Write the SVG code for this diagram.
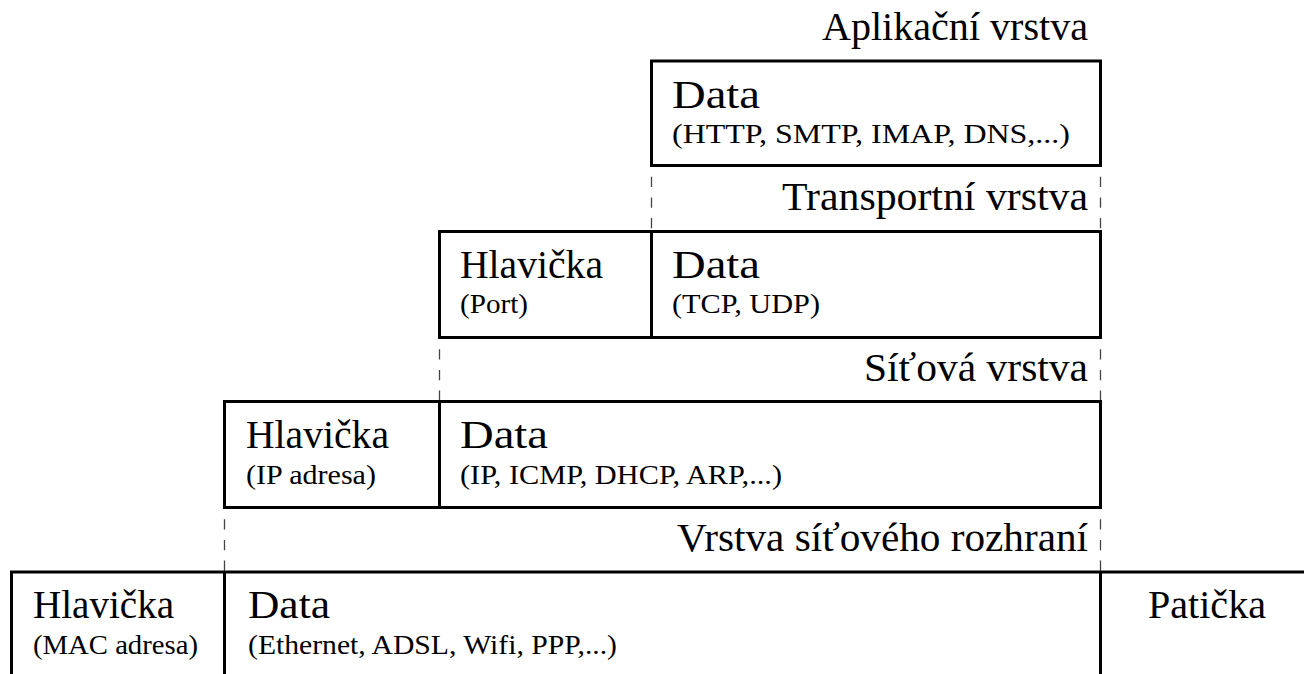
<svg xmlns="http://www.w3.org/2000/svg" width="1304" height="674" viewBox="0 0 1304 674">
<style>
.big{font-size:40px}
.small{font-size:27px}
.lbl{font-size:40px;text-anchor:end}
.box{fill:none;stroke:#000;stroke-width:3}
.div{stroke:#000;stroke-width:3}
.dash{stroke:#444;stroke-width:1.3;stroke-dasharray:10.3 10.3;stroke-dashoffset:10.3;fill:none}
</style>
<rect width="1304" height="674" fill="#fff"/>
<g id="connectors">
<line class="dash" x1="651.5" y1="166.5" x2="651.5" y2="232"/>
<line class="dash" x1="1100.5" y1="166.5" x2="1100.5" y2="232"/>
<line class="dash" x1="439.5" y1="339" x2="439.5" y2="402"/>
<line class="dash" x1="1100.5" y1="339" x2="1100.5" y2="402"/>
<line class="dash" x1="224.5" y1="509" x2="224.5" y2="572"/>
<line class="dash" x1="1100.5" y1="509" x2="1100.5" y2="572"/>
</g>
<g font-family="Liberation Serif, Times New Roman, DejaVu Serif, serif" fill="#000">
<g id="layer-app">
<text class="lbl" x="1088" y="40" textLength="266" lengthAdjust="spacingAndGlyphs">Aplikační vrstva</text>
<rect class="box" x="651.5" y="61" width="449" height="104.5"/>
<text class="big" x="672" y="108" textLength="88" lengthAdjust="spacingAndGlyphs">Data</text>
<text class="small" x="672" y="143" textLength="398" lengthAdjust="spacingAndGlyphs">(HTTP, SMTP, IMAP, DNS,...)</text>
</g>
<g id="layer-transport">
<text class="lbl" x="1088" y="210" textLength="306" lengthAdjust="spacingAndGlyphs">Transportní vrstva</text>
<rect class="box" x="439.5" y="231.5" width="661" height="106"/>
<line class="div" x1="651.5" y1="231.5" x2="651.5" y2="337.5"/>
<text class="big" x="460" y="278" textLength="143" lengthAdjust="spacingAndGlyphs">Hlavička</text>
<text class="small" x="460" y="313" textLength="68" lengthAdjust="spacingAndGlyphs">(Port)</text>
<text class="big" x="672" y="278" textLength="88" lengthAdjust="spacingAndGlyphs">Data</text>
<text class="small" x="672" y="313" textLength="148" lengthAdjust="spacingAndGlyphs">(TCP, UDP)</text>
</g>
<g id="layer-network">
<text class="lbl" x="1088" y="381" textLength="224" lengthAdjust="spacingAndGlyphs">Síťová vrstva</text>
<rect class="box" x="224.5" y="401.5" width="876" height="106"/>
<line class="div" x1="439.5" y1="401.5" x2="439.5" y2="507.5"/>
<text class="big" x="246" y="448" textLength="143" lengthAdjust="spacingAndGlyphs">Hlavička</text>
<text class="small" x="246" y="484" textLength="130" lengthAdjust="spacingAndGlyphs">(IP adresa)</text>
<text class="big" x="460" y="448" textLength="88" lengthAdjust="spacingAndGlyphs">Data</text>
<text class="small" x="460" y="484" textLength="322" lengthAdjust="spacingAndGlyphs">(IP, ICMP, DHCP, ARP,...)</text>
</g>
<g id="layer-link">
<text class="lbl" x="1088" y="551" textLength="411" lengthAdjust="spacingAndGlyphs">Vrstva síťového rozhraní</text>
<path class="box" d="M11.5 674 V572 H1304"/>
<line class="div" x1="224.5" y1="572" x2="224.5" y2="674"/>
<line class="div" x1="1100.5" y1="572" x2="1100.5" y2="674"/>
<text class="big" x="33" y="618" textLength="141" lengthAdjust="spacingAndGlyphs">Hlavička</text>
<text class="small" x="33" y="654" textLength="165" lengthAdjust="spacingAndGlyphs">(MAC adresa)</text>
<text class="big" x="248" y="618" textLength="82" lengthAdjust="spacingAndGlyphs">Data</text>
<text class="small" x="248" y="654" textLength="369" lengthAdjust="spacingAndGlyphs">(Ethernet, ADSL, Wifi, PPP,...)</text>
<text class="big" x="1148" y="618" textLength="118" lengthAdjust="spacingAndGlyphs">Patička</text>
</g>
</g>
</svg>
